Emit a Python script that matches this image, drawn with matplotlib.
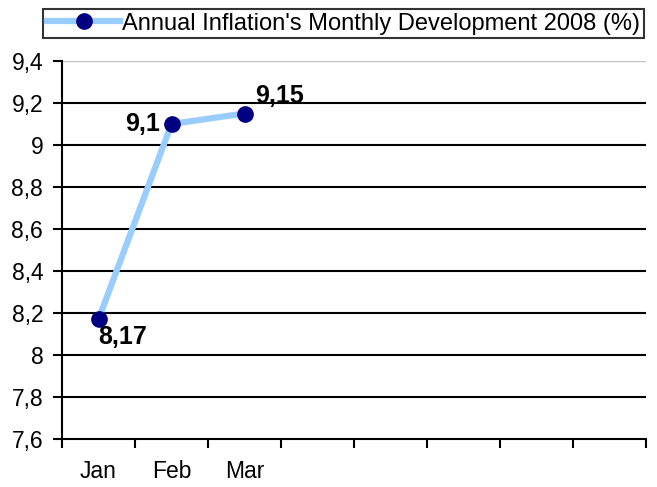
import matplotlib
matplotlib.use('Agg')
import matplotlib.pyplot as plt
import numpy as np

plt.rcParams['font.family'] = ['Liberation Sans', 'DejaVu Sans']

months = ['Jan', 'Feb', 'Mar', '', '', '', '', '']
values = [8.17, 9.1, 9.15]
labels = ['8,17', '9,1', '9,15']
yticks = [7.6, 7.8, 8.0, 8.2, 8.4, 8.6, 8.8, 9.0, 9.2, 9.4]
ytick_labels = ['7,6', '7,8', '8', '8,2', '8,4', '8,6', '8,8', '9', '9,2', '9,4']

fig = plt.figure(figsize=(6.57, 4.87), dpi=100)
ax = fig.add_axes([62 / 657, 1 - 439 / 487, 584 / 657, 378 / 487])

x = np.arange(len(values)) + 0.5
line, = ax.plot(x, values, color='#99ccff', lw=4.5, marker='o', ms=11,
                mfc='#000080', mec='#000080', zorder=3,
                label="Annual Inflation's Monthly Development 2008 (%)")

# point labels
offsets = [(0, -4, 'left', 'top'), (-8, 0, 'right', 'center'), (8, 4, 'left', 'bottom')]
for xi, v, t, (dx, dy, ha, va) in zip(x, values, labels, offsets):
    ax.annotate(t, (xi, v), xytext=(dx, dy), textcoords='offset points',
                ha=ha, va=va, fontsize=18, fontweight='bold')

ax.set_xlim(0, len(months))
ax.set_ylim(7.6, 9.4)
ax.set_yticks(yticks)
ax.set_yticklabels(ytick_labels, fontsize=16.5)
ax.set_xticks(np.arange(len(months) + 1))
ax.set_xticklabels([])
ax.set_xticks(np.arange(len(months)) + 0.5, minor=True)
ax.set_xticklabels(months, minor=True, fontsize=16.5)
ax.tick_params(axis='x', which='minor', length=0, pad=15)
ax.tick_params(axis='both', which='major', length=6.5, width=1.5, direction='out')
ax.tick_params(axis='y', which='major', pad=7)

for yv in yticks[1:-1]:
    ax.axhline(yv, color='black', lw=1.5, zorder=1)
ax.axhline(9.4, color='#c0c0c0', lw=1, zorder=1)

ax.spines['top'].set_visible(False)
ax.spines['right'].set_visible(False)
ax.spines['left'].set_linewidth(1.5)
ax.spines['bottom'].set_linewidth(1.5)

leg = fig.legend(handles=[line], loc='upper right',
                 bbox_to_anchor=(644 / 657, 1 - 9 / 487), fontsize=17,
                 frameon=True, fancybox=False, borderpad=0.15, borderaxespad=0,
                 handlelength=3.1, handletextpad=0.1)
leg.get_frame().set_edgecolor('black')
leg.get_frame().set_linewidth(1.5)

fig.savefig('out.png', dpi=100)
